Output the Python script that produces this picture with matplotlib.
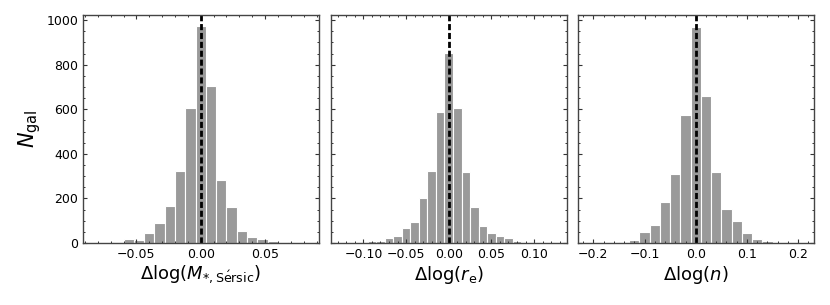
import numpy as np
import matplotlib
matplotlib.use("Agg")
import matplotlib.pyplot as plt
from matplotlib.ticker import AutoMinorLocator, MultipleLocator

# Histogram data (bin index relative to zero, counts)
mass_bin_width = 0.008
mass_bins = list(range(-8, 9))
mass_counts = [3, 19, 12, 45, 88, 167, 324, 605, 973, 703, 283, 163, 52, 27, 17, 7, 3]

re_bin_width = 0.01
re_bins = list(range(-9, 9))
re_counts = [9, 7, 22, 31, 66, 94, 203, 324, 589, 851, 605, 318, 161, 75, 46, 30, 21, 7]

n_bin_width = 0.02
n_bins = list(range(-7, 8))
n_counts = [4, 15, 49, 83, 185, 311, 575, 968, 661, 320, 151, 97, 43, 18, 9]

xlabels = [r"$\Delta\log(M_{*,\rm S\acute{e}rsic})$", r"$\Delta\log(r_{\rm e})$", r"$\Delta\log(n)$"]
xlims = [0.0915, 0.138, 0.23]
xmajor = [0.05, 0.05, 0.1]
xfmt = ["{:.2f}", "{:.2f}", "{:.1f}"]

fig = plt.figure(figsize=(8.3, 3.05), dpi=100)
lefts = [83, 331, 578]
W, H = 830, 305
axes = []
for i, l in enumerate(lefts):
    ax = fig.add_axes([l / W, 1 - 243 / H, 235.5 / W, (243 - 15.3) / H])
    axes.append(ax)

data = [(mass_bins, mass_counts, mass_bin_width),
        (re_bins, re_counts, re_bin_width),
        (n_bins, n_counts, n_bin_width)]
ymax = 1.05 * max(max(mass_counts), max(re_counts), max(n_counts))

for i, (ax, (bins, counts, w)) in enumerate(zip(axes, data)):
    centers = np.array(bins) * w
    ax.bar(centers, counts, width=w, color="#9a9a9a", edgecolor="white", linewidth=0.8)
    ax.axvline(0, color="k", lw=2.0, linestyle=(0, (2.2, 1.0)))
    ax.set_xlim(-xlims[i], xlims[i])
    ax.set_ylim(0, ymax)
    ax.xaxis.set_major_locator(MultipleLocator(xmajor[i]))
    ax.xaxis.set_minor_locator(AutoMinorLocator())
    ax.yaxis.set_major_locator(MultipleLocator(200))
    ax.yaxis.set_minor_locator(AutoMinorLocator())
    ax.tick_params(which="both", direction="in", top=True, right=True,
                   labelsize=9, color="#333333")
    ax.tick_params(which="major", length=3, width=0.8)
    ax.tick_params(which="minor", length=1.6, width=0.7)
    fmt = xfmt[i]
    ax.set_xticks(ax.get_xticks())
    ax.set_xticklabels([fmt.format(t).replace("-", "\u2212") if abs(t) > 1e-9 else fmt.format(0.0)
                        for t in ax.get_xticks()])
    ax.set_xlim(-xlims[i], xlims[i])
    for s in ax.spines.values():
        s.set_color("#444444")
        s.set_linewidth(1.0)
    ax.set_xlabel(xlabels[i], fontsize=13, labelpad=2)
    if i == 0:
        ax.set_ylabel(r"$N_{\rm gal}$", fontsize=15, labelpad=2)
    else:
        ax.set_yticklabels([])

fig.savefig("out.png", dpi=100)
